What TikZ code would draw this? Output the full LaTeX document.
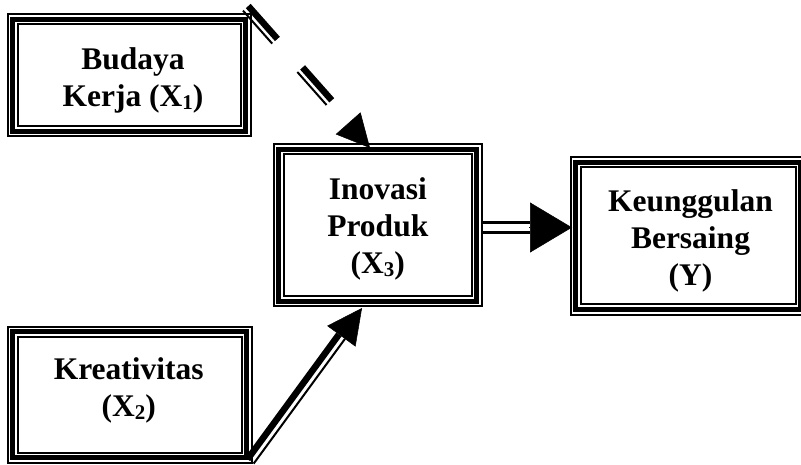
\documentclass[tikz,border=0pt]{standalone}
\usepackage{fontspec}
\setmainfont{Liberation Serif}
\usetikzlibrary{arrows.meta,calc}
\newcommand\subnum[1]{\raisebox{-3pt}{\fontsize{21}{21}\selectfont #1}}
\begin{document}
\begin{tikzpicture}[x=1pt,y=-1pt,
 tribox/.style={rectangle, inner sep=0pt, outer sep=0pt,
   preaction={draw=black, line width=12pt},
   preaction={draw=white, line width=8pt},
   draw=black, line width=5pt},
 lbl/.style={align=center, font=\bfseries\fontsize{31.5}{37}\selectfont, anchor=base, inner sep=0pt},
 thickline/.style={draw=black, line width=6.5pt},
 thinline/.style={draw=black, line width=2pt},
 dashpat/.style={dash pattern=on 44pt off 38pt},
 bigtip/.style n args={2}{-{Triangle[length=#1,width=#2]}, line width=0.5pt}
]
\useasboundingbox (0,0) rectangle (801,465);

% boxes
\node[tribox, minimum width=233pt, minimum height=112pt] (b1) at (129,75.5) {};
\node[tribox, minimum width=198pt, minimum height=152pt] (b3) at (377.5,225.5) {};
\node[tribox, minimum width=225pt, minimum height=147pt] (b4) at (688,236) {};
\node[tribox, minimum width=234pt, minimum height=126pt] (b2) at (129.5,394.5) {};

% texts (anchor = baseline of last line)
\node[lbl] (t1) at (133,107) {Budaya\\Kerja (X\subnum{1})};
\node[lbl] (t3) at (377.8,274) {Inovasi\\Produk\\(X\subnum{3})};
\node[lbl] (t4) at (690.5,285.5) {Keunggulan\\Bersaing\\(Y)};
\node[lbl] (t2) at (128.7,416) {Kreativitas\\(X\subnum{2})};

% X3 -> Y
\coordinate (a1s) at ([xshift=6pt, yshift=-2pt]b3.east);
\coordinate (a1t) at ([xshift=-3.5pt]b4.west |- a1s);
\coordinate (a1b) at ($(a1t)+(-42,0)$);
\draw[line width=2.8pt, double, double distance=7.5pt] (a1s) -- (a1b);
\draw[bigtip={42pt}{50pt}] ($(a1b)+(-1,0)$) -- (a1t);

% X1 -> X3 (dashed)
\coordinate (d1s) at ([xshift=0.5pt, yshift=11.5pt]b1.north east);
\coordinate (d1t) at ([xshift=-7.5pt, yshift=1.5pt]b3.north);
\coordinate (d1b) at ($(d1t)!33pt!(d1s)$);
\draw[thickline, dashpat] ($(d1s)!3pt!90:(d1b)$) -- ($(d1b)!3pt!-90:(d1s)$);
\draw[thinline, dashpat] ($(d1s)!4pt!-90:(d1b)$) -- ($(d1b)!4pt!90:(d1s)$);
\draw[bigtip={33pt}{33pt}] (d1b) -- (d1t);

% X2 -> X3
\coordinate (s2) at ([xshift=3.5pt, yshift=-3.5pt]b2.south east);
\coordinate (t2x) at ([xshift=-15.5pt, yshift=-6.5pt]b3.south);
\coordinate (b2x) at ($(t2x)!35pt!(s2)$);
\draw[thickline] ($(s2)!3pt!90:(b2x)$) -- ($(b2x)!3pt!-90:(s2)$);
\draw[thinline] ($(s2)!4.5pt!-90:(b2x)$) -- ($(b2x)!4.5pt!90:(s2)$);
\draw[bigtip={35pt}{35pt}] (b2x) -- (t2x);
\end{tikzpicture}
\end{document}
